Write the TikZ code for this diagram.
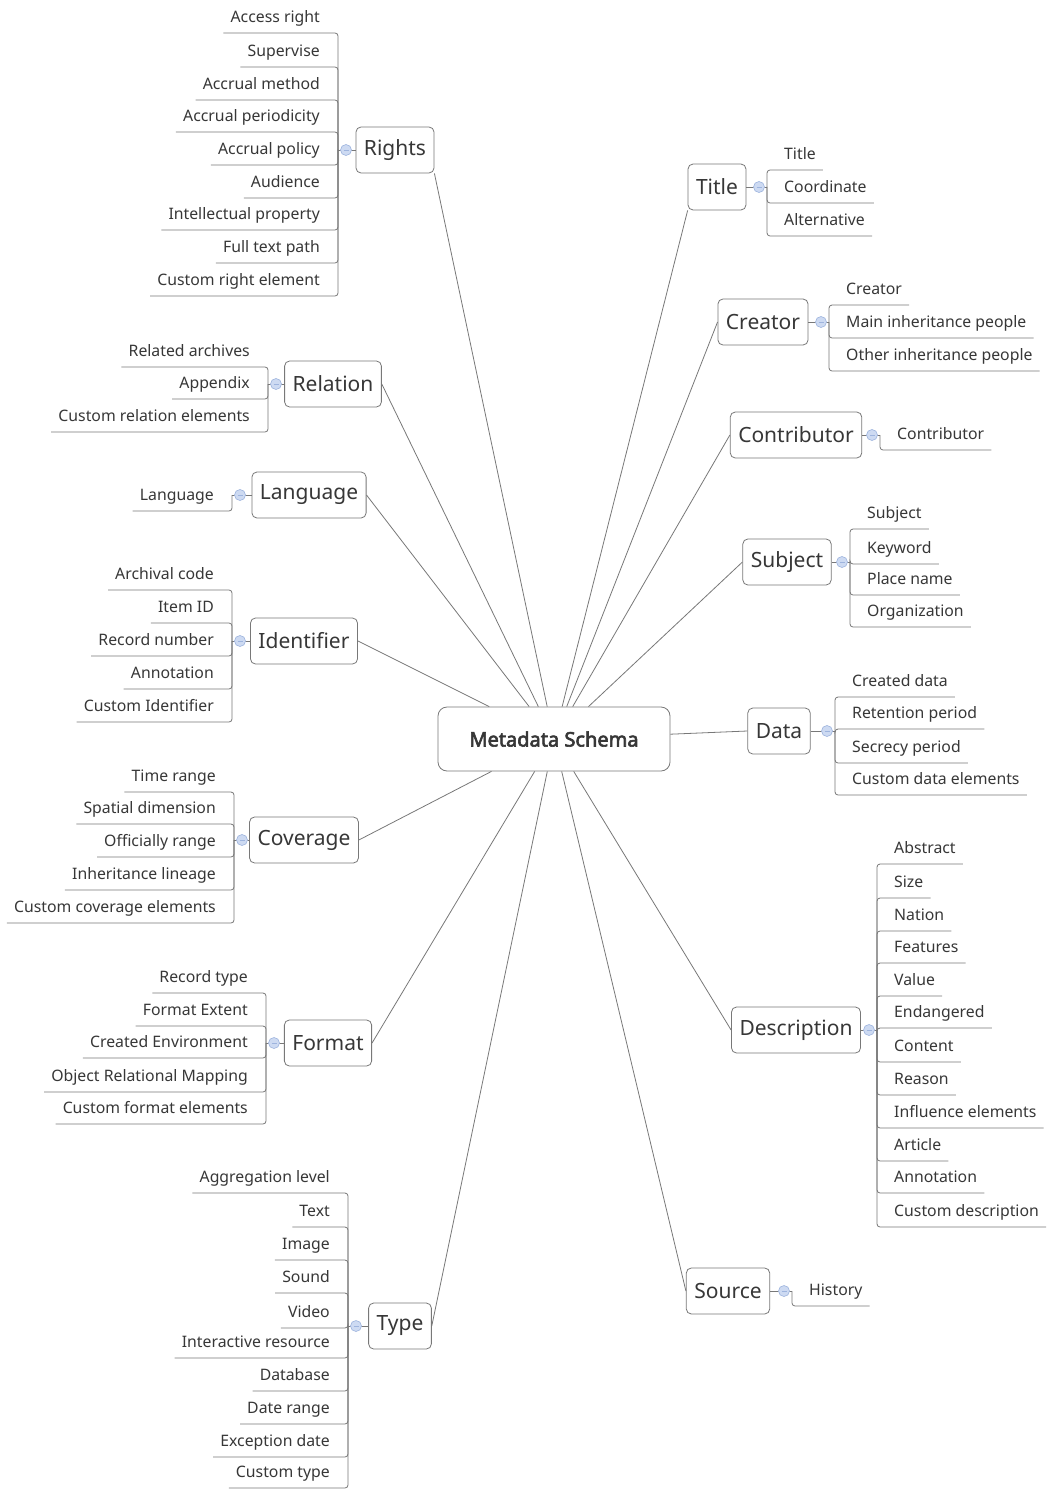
\documentclass[tikz,border=0pt]{standalone}
\usepackage{fontspec}
\setmainfont{Noto Sans}
\newfontfamily\metafont{Noto Sans}[FakeBold=3]
\usetikzlibrary{calc,shapes}
\definecolor{inkgray}{RGB}{55,55,55}
\definecolor{linegray}{RGB}{120,120,120}
\definecolor{foldblue}{RGB}{205,218,242}
\definecolor{foldrim}{RGB}{158,180,222}
\tikzstyle{branch}=[draw=linegray,line width=0.8pt]
\tikzstyle{topic}=[draw=linegray,fill=white,rounded corners=5pt,line width=0.8pt,minimum height=46pt,inner xsep=8pt,text=inkgray,font=\fontsize{21}{24}\selectfont]
\tikzstyle{central}=[draw=linegray,fill=white,rounded corners=9pt,line width=0.8pt,minimum width=232pt,minimum height=64pt,text=inkgray,font=\metafont\fontsize{20}{23}\selectfont]
\tikzstyle{leaf}=[inner xsep=7pt,inner ysep=6pt,text height=12pt,text depth=4pt,text=inkgray,font=\fontsize{15.8}{18}\selectfont]
\tikzstyle{fold}=[circle,minimum size=11pt,inner sep=0pt,fill=foldblue,draw=foldrim,line width=0.6pt,
  path picture={\draw[foldrim,line width=0.7pt] ([xshift=-2.5pt]path picture bounding box.center) -- ([xshift=2.5pt]path picture bounding box.center);}]

\begin{document}
\begin{tikzpicture}[x=1pt,y=-1pt]

      \path[fill=white] (0,0) rectangle (1049,1490);
      \useasboundingbox (0,0) rectangle (1049,1490);

      \node[central] (meta) at (554,739) {Metadata Schema};

      % left side
      \node[topic] (rights) at (395,150) {Rights};
      \coordinate (rights-j) at (338,150);
      \foreach \y/\t [count=\i] in {33/Access right,67/Supervise,100/Accrual method,132/Accrual periodicity,165/Accrual policy,198/Audience,230/Intellectual property,263/Full text path,296/Custom right element} {
          \node[leaf,anchor=south east] (rights-\i) at (327,\y) {\t};
          \draw[branch,rounded corners=3pt] (rights-j) |- (rights-\i.south west);
      }

      \node[topic] (relation) at (333,384) {Relation};
      \coordinate (relation-j) at (268,384);
      \foreach \y/\t [count=\i] in {367/Related archives,399/Appendix,432/Custom relation elements} {
          \node[leaf,anchor=south east] (relation-\i) at (257,\y) {\t};
          \draw[branch,rounded corners=3pt] (relation-j) |- (relation-\i.south west);
      }

      \node[topic] (language) at (309,495) {Language};
      \coordinate (language-j) at (232,495);
      \node[leaf,anchor=south east] (language-1) at (221,511) {Language};
      \draw[branch,rounded corners=3pt] (language-j) |- (language-1.south west);

      \node[topic] (identifier) at (304,641) {Identifier};
      \coordinate (identifier-j) at (232,641);
      \foreach \y/\t [count=\i] in {590/Archival code,623/Item ID,656/Record number,689/Annotation,722/Custom Identifier} {
          \node[leaf,anchor=south east] (identifier-\i) at (221,\y) {\t};
          \draw[branch,rounded corners=3pt] (identifier-j) |- (identifier-\i.south west);
      }

      \node[topic] (coverage) at (304,840) {Coverage};
      \coordinate (coverage-j) at (234,840);
      \foreach \y/\t [count=\i] in {792/Time range,824/Spatial dimension,857/Officially range,890/Inheritance lineage,923/Custom coverage elements} {
          \node[leaf,anchor=south east] (coverage-\i) at (223,\y) {\t};
          \draw[branch,rounded corners=3pt] (coverage-j) |- (coverage-\i.south west);
      }

      \node[topic] (format) at (328,1043) {Format};
      \coordinate (format-j) at (266,1043);
      \foreach \y/\t [count=\i] in {993/Record type,1026/Format Extent,1058/Created Environment,1092/Object Relational Mapping,1124/Custom format elements} {
          \node[leaf,anchor=south east] (format-\i) at (255,\y) {\t};
          \draw[branch,rounded corners=3pt] (format-j) |- (format-\i.south west);
      }

      \node[topic] (type) at (400,1326) {Type};
      \coordinate (type-j) at (348,1326);
      \foreach \y/\t [count=\i] in {1193/Aggregation level,1227/Text,1260/Image,1293/Sound,1328/Video,1358/Interactive resource,1391/Database,1424/Date range,1457/Exception date,1488/Custom type} {
          \node[leaf,anchor=south east] (type-\i) at (337,\y) {\t};
          \draw[branch,rounded corners=3pt] (type-j) |- (type-\i.south west);
      }

      % right side
      \node[topic] (title) at (717,187) {Title};
      \coordinate (title-j) at (767,187);
      \foreach \y/\t [count=\i] in {170/Title,203/Coordinate,236/Alternative} {
          \node[leaf,anchor=south west] (title-\i) at (777,\y) {\t};
          \draw[branch,rounded corners=3pt] (title-j) |- (title-\i.south east);
      }

      \node[topic] (creator) at (763,322) {Creator};
      \coordinate (creator-j) at (829,322);
      \foreach \y/\t [count=\i] in {305/Creator,338/Main inheritance people,371/Other inheritance people} {
          \node[leaf,anchor=south west] (creator-\i) at (839,\y) {\t};
          \draw[branch,rounded corners=3pt] (creator-j) |- (creator-\i.south east);
      }

      \node[topic] (contributor) at (796,435) {Contributor};
      \coordinate (contributor-j) at (880,435);
      \node[leaf,anchor=south west] (contributor-1) at (890,450) {Contributor};
      \draw[branch,rounded corners=3pt] (contributor-j) |- (contributor-1.south east);

      \node[topic] (subject) at (787,562) {Subject};
      \coordinate (subject-j) at (850,562);
      \foreach \y/\t [count=\i] in {529/Subject,564/Keyword,595/Place name,627/Organization} {
          \node[leaf,anchor=south west] (subject-\i) at (860,\y) {\t};
          \draw[branch,rounded corners=3pt] (subject-j) |- (subject-\i.south east);
      }

      \node[topic] (data) at (779,731) {Data};
      \coordinate (data-j) at (835,731);
      \foreach \y/\t [count=\i] in {697/Created data,729/Retention period,763/Secrecy period,795/Custom data elements} {
          \node[leaf,anchor=south west] (data-\i) at (845,\y) {\t};
          \draw[branch,rounded corners=3pt] (data-j) |- (data-\i.south east);
      }

      \node[topic] (description) at (796,1030) {Description};
      \coordinate (description-j) at (877,1030);
      \foreach \y/\t [count=\i] in {864/Abstract,898/Size,931/Nation,963/Features,996/Value,1028/Endangered,1062/Content,1095/Reason,1128/Influence elements,1161/Article,1193/Annotation,1227/Custom description} {
          \node[leaf,anchor=south west] (description-\i) at (887,\y) {\t};
          \draw[branch,rounded corners=3pt] (description-j) |- (description-\i.south east);
      }

      \node[topic] (source) at (728,1291) {Source};
      \coordinate (source-j) at (792,1291);
      \node[leaf,anchor=south west] (source-1) at (802,1306) {History};
      \draw[branch,rounded corners=3pt] (source-j) |- (source-1.south east);

      % topic to bracket, with the fold marks
      \foreach \n in {rights,relation,language,identifier,coverage,format,type} {
          \draw[branch] (\n) -- (\n-j);
          \node[fold] (\n-f) at ($(\n-j)+(8,0)$) {};
      }
      \foreach \n in {title,creator,contributor,subject,data,description,source} {
          \draw[branch] (\n) -- (\n-j);
          \node[fold] (\n-f) at ($(\n-j)+(-8,0)$) {};
      }

      % centre to topics
      \foreach \n/\a in {rights/south east,relation/east,language/east,identifier/east,coverage/east,format/east,type/east,title/south west,creator/west,contributor/west,subject/west,data/west,description/west,source/west} {
          \draw[branch] (meta) -- (\n.\a);
      }

\end{tikzpicture}
\end{document}
